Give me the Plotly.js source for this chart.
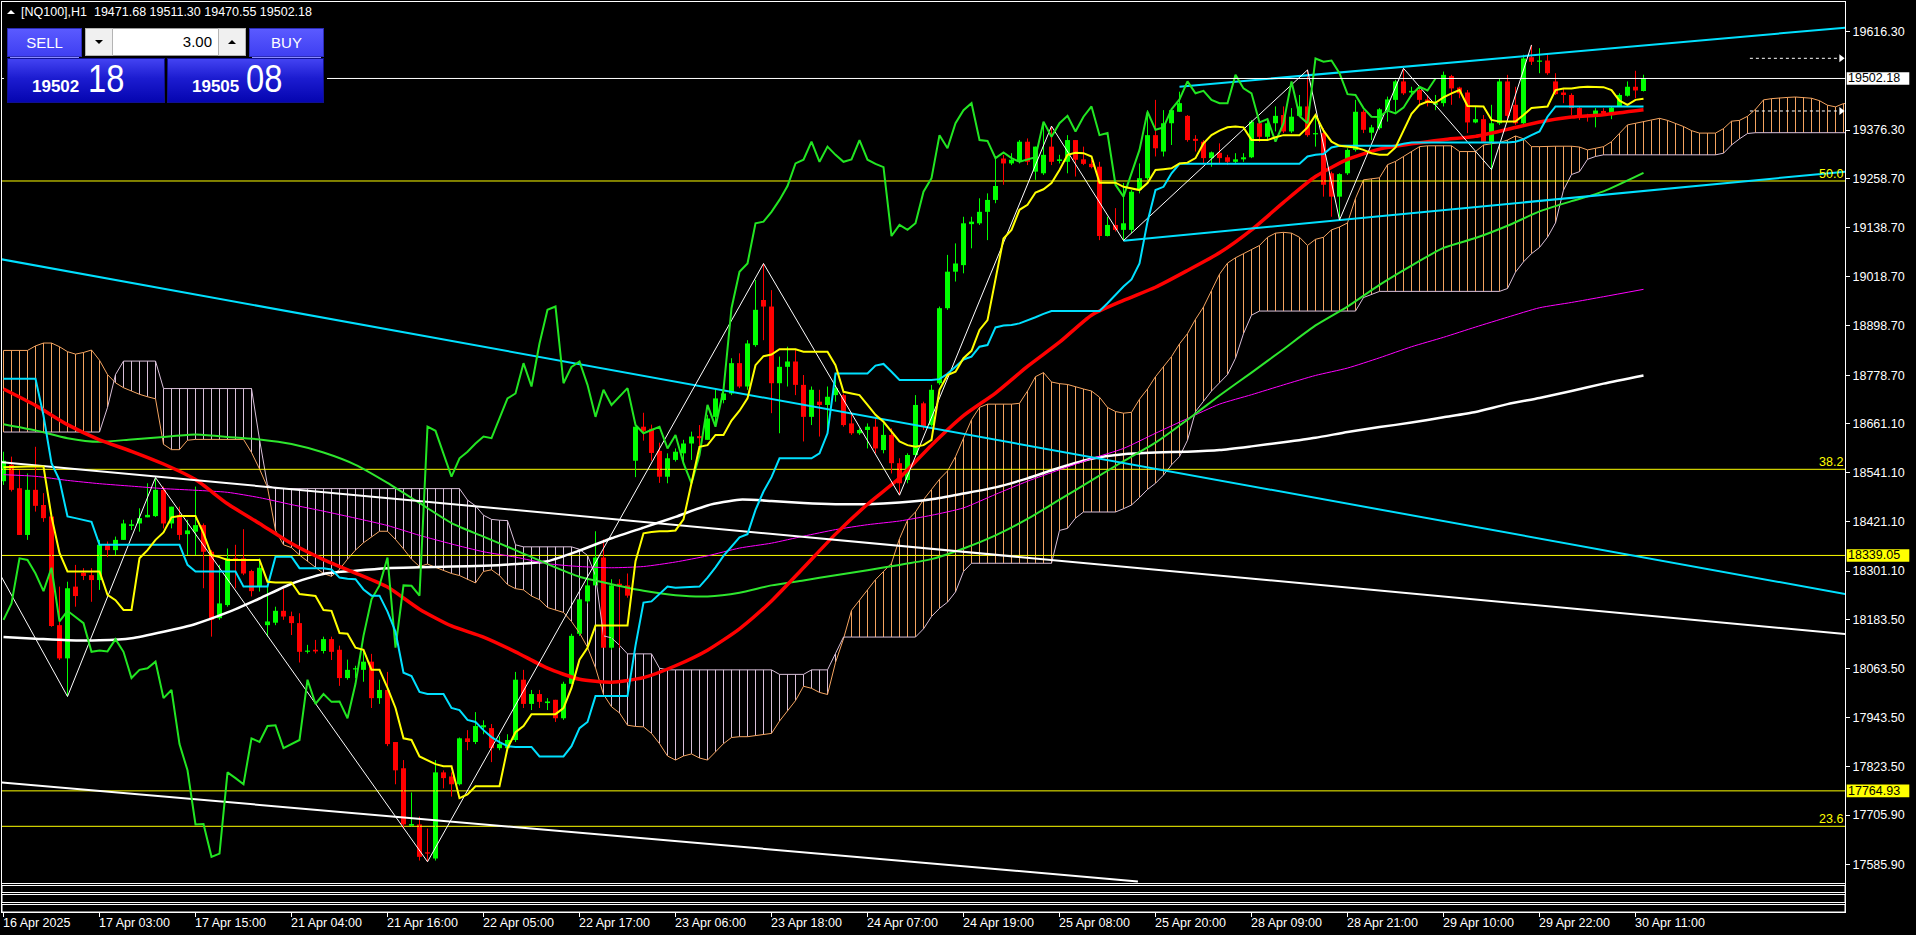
<!DOCTYPE html>
<html><head><meta charset="utf-8">
<script src="https://cdn.plot.ly/plotly-3.0.1.min.js"></script>
<style>
html,body{margin:0;padding:0;background:#000;width:1916px;height:935px;overflow:hidden;font-family:"Liberation Sans",Arial,sans-serif}
#chart{position:absolute;left:0;top:0;width:1916px;height:935px}
#panel{position:absolute;left:0;top:0;width:340px;height:110px}
#panel div{position:absolute;box-sizing:border-box}
.btn{background:linear-gradient(#5a5aff,#3f3ff2);border:1px solid #2b2bb8;color:#fff;font-size:15px;text-align:center;line-height:27px}
.sep{height:1px;background:#8c8cff}
.pbox{background:linear-gradient(#4343f2,#1c1cd0 45%,#0505b0);border:1px solid #101090}
.small{position:absolute;color:#fff;font-weight:bold;font-size:17px;line-height:17px;white-space:nowrap}
.big{position:absolute;color:#fff;font-size:38px;line-height:38px;white-space:nowrap;transform:scaleX(0.86);transform-origin:0 0}
</style></head><body>
<div id="chart"></div>
<div id="panel">
  <div style="left:4px;top:22px;width:323px;height:85px;background:#000"></div>
  <div style="left:7px;top:10px;width:0;height:0;border-left:4px solid transparent;border-right:4px solid transparent;border-bottom:4px solid #fff"></div>
  <div id="hdr" style="left:21px;top:5px;height:15px;line-height:15px;font-size:12.5px;color:#fff;white-space:nowrap"></div>
  <div class="btn" style="left:7px;top:28px;width:75px;height:29px">SELL</div>
  <div class="sep" style="left:10px;top:57px;width:69px"></div>
  <div style="left:85px;top:28px;width:161px;height:28px;background:#fff;border:1px solid #9a9a9a"></div>
  <div style="left:85px;top:28px;width:28px;height:28px;background:#f0f0f0;border:1px solid #b4b4b4"></div>
  <div style="left:95px;top:40px;width:0;height:0;border-left:4px solid transparent;border-right:4px solid transparent;border-top:4px solid #000"></div>
  <div style="left:218px;top:28px;width:28px;height:28px;background:#f0f0f0;border:1px solid #b4b4b4"></div>
  <div style="left:228px;top:40px;width:0;height:0;border-left:4px solid transparent;border-right:4px solid transparent;border-bottom:4px solid #000"></div>
  <div id="lot" style="left:113px;top:28px;width:105px;height:28px;line-height:28px;font-size:15px;color:#000;text-align:right;padding-right:6px"></div>
  <div class="btn" style="left:249px;top:28px;width:75px;height:29px">BUY</div>
  <div class="sep" style="left:252px;top:57px;width:69px"></div>
  <div class="pbox" style="left:7px;top:58px;width:158px;height:45px"></div>
  <div class="pbox" style="left:167px;top:58px;width:157px;height:45px"></div>
  <span class="small" id="bidS" style="left:32px;top:78px"></span>
  <span class="big" id="bidB" style="left:88px;top:60px"></span>
  <span class="small" id="askS" style="left:192px;top:78px"></span>
  <span class="big" id="askB" style="left:246px;top:60px"></span>
</div>
<script>
// ---------- DATA ----------
const symbol = "[NQ100],H1";
const lotSize = 3.00;
const askPrice = 19505.08;

const xTickBars = [0,12,24,36,48,60,72,84,96,108,120,132,144,156,168,180,192,204];
const xTickLabels = ["16 Apr 2025","17 Apr 03:00","17 Apr 15:00","21 Apr 04:00","21 Apr 16:00","22 Apr 05:00","22 Apr 17:00","23 Apr 06:00","23 Apr 18:00","24 Apr 07:00","24 Apr 19:00","25 Apr 08:00","25 Apr 20:00","28 Apr 09:00","28 Apr 21:00","29 Apr 10:00","29 Apr 22:00","30 Apr 11:00"];
const yTickVals = [19616.30,19376.30,19258.70,19138.70,19018.70,18898.70,18778.70,18661.10,18541.10,18421.10,18301.10,18183.50,18063.50,17943.50,17823.50,17705.90,17585.90];

const open = [18520,18560,18503,18389,18499,18462,18434,18169,18088,18263,
 18297,18291,18279,18365,18352,18377,18411,18417,18432,18435,
 18499,18417,18438,18391,18397,18413,18348,18186,18218,18332,
 18332,18301,18263,18169,18175,18204,18191,18174,18104,18109,
 18106,18135,18109,18040,18061,18060,18080,17991,18011,17884,
 17820,17680,17683,17615,17600,17810,17800,17781,17893,17884,
 17920,17918,17869,17869,17889,18036,17977,18001,17979,17987,
 17942,18026,18148,18227,18266,18334,18114,18270,18266,18570,
 18653,18648,18594,18531,18572,18588,18612,18630,18621,18677,
 18718,18734,18808,18751,18852,18962,18946,18759,18799,18812,
 18755,18677,18714,18706,18730,18730,18661,18637,18645,18653,
 18596,18633,18564,18523,18584,18710,18657,18759,18942,19031,
 19047,19147,19149,19177,19206,19307,19295,19299,19348,19275,
 19271,19336,19301,19299,19352,19305,19294,19287,19118,19145,
 19133,19133,19230,19259,19364,19324,19393,19421,19411,19355,
 19348,19308,19321,19310,19299,19305,19310,19393,19360,19393,
 19413,19373,19411,19434,19366,19369,19271,19214,19271,19328,
 19421,19370,19381,19425,19450,19495,19468,19474,19451,19438,
 19442,19508,19480,19468,19395,19403,19348,19393,19495,19438,
 19393,19554,19543,19546,19495,19468,19462,19430,19411,19409,
 19423,19416,19435,19460,19482,19471.68];
const high = [18592,18580,18547,18539,18604,18491,18434,18263,18275,18316,
 18308,18308,18377,18373,18385,18426,18426,18454,18515,18529,
 18507,18458,18458,18426,18507,18417,18352,18316,18356,18365,
 18403,18304,18332,18263,18214,18259,18202,18198,18121,18133,
 18141,18141,18119,18085,18070,18109,18099,18036,18055,17884,
 17840,17761,17702,17673,17840,17815,17810,17895,17913,17957,
 17937,17928,17898,17903,18055,18060,18011,18011,17991,17987,
 18031,18148,18232,18281,18398,18378,18281,18281,18295,18653,
 18687,18658,18614,18588,18600,18621,18641,18657,18682,18743,
 18747,18820,18832,18864,19011,19051,18986,18824,18848,18840,
 18779,18751,18743,18751,18783,18734,18682,18649,18661,18673,
 18661,18649,18576,18588,18730,18714,18755,18946,19072,19100,
 19165,19165,19210,19222,19310,19316,19320,19352,19356,19336,
 19389,19386,19316,19364,19352,19336,19304,19299,19165,19186,
 19247,19230,19295,19425,19450,19425,19430,19470,19413,19364,
 19352,19324,19344,19316,19320,19320,19401,19401,19401,19434,
 19434,19430,19462,19523,19409,19381,19275,19271,19332,19450,
 19425,19389,19430,19458,19499,19527,19482,19482,19462,19462,
 19519,19511,19482,19474,19434,19413,19438,19503,19511,19482,
 19560,19584,19576,19564,19515,19478,19466,19434,19416,19430,
 19430,19435,19466,19495,19521,19511.30];
const low = [18511,18495,18389,18377,18446,18421,18165,18084,17995,18214,
 18279,18226,18255,18335,18340,18377,18401,18397,18432,18433,
 18405,18405,18377,18340,18340,18259,18141,18182,18214,18259,
 18291,18239,18251,18141,18169,18182,18145,18078,18100,18100,
 18100,18084,18021,18036,18040,18031,17967,17977,17874,17781,
 17673,17678,17595,17592,17595,17771,17751,17778,17864,17879,
 17903,17835,17864,17869,17884,17967,17962,17967,17962,17933,
 17938,18025,18143,18222,18266,18114,18109,18114,18236,18530,
 18619,18570,18516,18515,18568,18568,18572,18604,18621,18657,
 18710,18730,18747,18743,18848,18864,18686,18637,18751,18730,
 18617,18657,18629,18637,18714,18653,18633,18633,18600,18588,
 18588,18539,18486,18515,18580,18645,18653,18755,18938,19007,
 19027,19088,19145,19108,19198,19243,19291,19295,19291,19255,
 19267,19291,19295,19271,19263,19291,19283,19108,19117,19129,
 19107,19125,19222,19255,19312,19312,19340,19421,19348,19324,
 19295,19287,19295,19291,19295,19299,19308,19348,19352,19373,
 19369,19369,19409,19360,19336,19214,19165,19157,19267,19324,
 19369,19352,19377,19397,19421,19462,19458,19438,19434,19425,
 19434,19438,19454,19369,19393,19348,19280,19389,19397,19389,
 19389,19535,19515,19511,19462,19442,19413,19401,19397,19383,
 19413,19403,19434,19458,19454,19470.55];
const close = [18570,18499,18389,18499,18460,18430,18167,18088,18259,18240,
 18289,18279,18365,18352,18377,18417,18415,18430,18438,18499,
 18417,18458,18389,18400,18413,18348,18182,18222,18332,18328,
 18295,18252,18309,18178,18204,18190,18174,18104,18107,18105,
 18135,18104,18040,18060,18064,18080,17991,18011,17879,17815,
 17683,17684,17604,17612,17810,17796,17781,17893,17884,17923,
 17925,17869,17879,17889,18036,17977,18001,17982,17983,17942,
 18026,18143,18232,18266,18334,18114,18266,18265,18241,18653,
 18643,18589,18531,18576,18592,18612,18629,18625,18673,18722,
 18734,18808,18751,18856,18938,18946,18759,18799,18812,18755,
 18677,18743,18706,18726,18747,18657,18637,18645,18653,18600,
 18633,18564,18515,18584,18706,18653,18743,18942,19031,19051,
 19149,19153,19177,19206,19240,19295,19304,19348,19299,19336,
 19316,19299,19305,19352,19304,19294,19286,19118,19145,19133,
 19149,19226,19259,19364,19332,19393,19425,19442,19352,19350,
 19308,19322,19308,19299,19305,19310,19397,19360,19393,19411,
 19373,19409,19434,19364,19369,19243,19214,19269,19328,19421,
 19377,19383,19427,19451,19495,19466,19472,19450,19442,19442,
 19511,19478,19466,19395,19403,19348,19393,19495,19411,19393,
 19551,19543,19546,19515,19464,19462,19430,19409,19408,19424,
 19417,19431,19462,19482,19473,19502.18];

const tenkan = [18554,18555,18555,18556,18556,18556,18434,18345,18300,18300,
 18300,18300,18300,18243,18230,18206,18206,18332,18352,18377,
 18395,18432,18435,18435,18435,18393,18340,18335,18328,18328,
 18328,18328,18328,18275,18273,18273,18273,18245,18243,18240,
 18206,18204,18150,18148,18114,18109,18060,18060,18016,17967,
 17893,17889,17849,17840,17830,17825,17825,17747,17756,17776,
 17776,17776,17776,17869,17908,17923,17952,17952,17952,17952,
 17967,18016,18085,18114,18168,18168,18168,18168,18168,18325,
 18393,18396,18398,18398,18400,18427,18519,18604,18608,18633,
 18633,18668,18692,18722,18803,18825,18829,18842,18842,18842,
 18836,18836,18836,18836,18803,18738,18734,18730,18706,18682,
 18665,18641,18617,18608,18604,18608,18621,18743,18779,18787,
 18820,18838,18889,18913,19012,19112,19133,19182,19194,19224,
 19232,19247,19279,19316,19321,19320,19312,19248,19248,19248,
 19238,19234,19230,19247,19279,19281,19283,19295,19297,19308,
 19344,19364,19375,19383,19385,19383,19352,19352,19352,19359,
 19364,19364,19364,19383,19413,19375,19348,19338,19336,19334,
 19328,19320,19316,19316,19334,19377,19416,19438,19446,19443,
 19456,19466,19474,19435,19434,19434,19401,19397,19397,19397,
 19413,19430,19432,19434,19474,19478,19478,19481,19482,19482,
 19481,19474,19448,19438,19450,19453];
const kijun = [18770,18770,18770,18770,18770,18680,18564,18523,18434,18430,
 18426,18421,18365,18365,18365,18365,18365,18365,18365,18365,
 18365,18365,18365,18316,18300,18300,18300,18300,18300,18300,
 18263,18263,18263,18263,18336,18336,18336,18308,18308,18308,
 18308,18305,18285,18282,18281,18256,18241,18241,18202,18153,
 18053,18045,18006,18001,18001,18001,17967,17962,17938,17933,
 17913,17896,17884,17874,17872,17872,17872,17849,17849,17849,
 17849,17874,17918,17933,17996,17996,17996,17996,17996,18119,
 18224,18227,18246,18263,18260,18261,18262,18263,18285,18310,
 18338,18360,18383,18391,18450,18495,18530,18576,18576,18576,
 18576,18576,18588,18637,18783,18783,18783,18783,18783,18802,
 18806,18787,18767,18767,18767,18767,18767,18769,18782,18799,
 18817,18824,18848,18852,18895,18900,18901,18905,18912,18920,
 18928,18935,18935,18935,18935,18935,18935,18935,18954,18975,
 18995,19012,19051,19153,19230,19238,19271,19294,19294,19294,
 19294,19294,19294,19294,19294,19294,19294,19294,19294,19294,
 19294,19294,19294,19312,19316,19318,19334,19338,19338,19338,
 19338,19338,19338,19338,19338,19343,19346,19346,19346,19346,
 19346,19346,19346,19346,19346,19346,19346,19346,19346,19348,
 19354,19364,19373,19409,19434,19434,19434,19434,19434,19434,
 19434,19434,19434,19434,19434,19434];
const chikouShift = 26;

const spanA = [18839,18839,18839,18839,18850,18857,18857,18848,18836,18830,
 18834,18840,18815,18780,18760,18748,18740,18732,18726,18721,
 18610,18597,18597,18620,18622,18622,18622,18622,18622,18622,
 18622,18590,18550,18505,18400,18365,18358,18340,18325,18310,
 18295,18288,18305,18330,18352,18370,18385,18398,18398,18378,
 18355,18330,18312,18318,18310,18302,18295,18290,18280,18272,
 18300,18304,18290,18268,18258,18255,18240,18231,18212,18206,
 18200,18178,18150,18115,18065,18000,17970,17955,17925,17922,
 17921,17905,17880,17850,17840,17850,17855,17845,17840,17860,
 17880,17895,17897,17897,17900,17903,17905,17935,17960,17985,
 18020,18015,18005,18000,18078,18136,18205,18230,18255,18280,
 18300,18320,18380,18425,18445,18475,18500,18525,18545,18580,
 18625,18670,18700,18708,18708,18708,18708,18710,18740,18775,
 18785,18762,18758,18756,18750,18745,18740,18725,18700,18690,
 18686,18688,18720,18745,18775,18800,18824,18855,18880,18915,
 18945,18985,19025,19052,19065,19075,19085,19095,19115,19125,
 19127,19125,19115,19095,19110,19115,19133,19140,19150,19210,
 19255,19257,19260,19292,19300,19312,19324,19336,19338,19338,
 19338,19338,19324,19324,19324,19340,19343,19346,19352,19362,
 19355,19336,19336,19337,19337,19337,19337,19335,19328,19332,
 19336,19348,19368,19389,19393,19397,19400,19405,19400,19393,
 19385,19375,19369,19369,19369,19380,19398,19400,19410,19427,
 19450,19453,19455,19456,19457,19456,19454,19448,19437,19433,
 19441,19441];
const spanB = [18640,18640,18640,18640,18640,18640,18640,18640,18640,18640,
 18640,18640,18640,18700,18780,18813,18813,18813,18813,18813,
 18746,18746,18746,18746,18746,18746,18746,18746,18746,18746,
 18746,18746,18622,18510,18502,18502,18502,18502,18502,18502,
 18502,18502,18502,18502,18502,18502,18502,18502,18502,18502,
 18502,18502,18502,18502,18502,18502,18502,18502,18474,18460,
 18437,18427,18425,18424,18365,18360,18360,18360,18360,18360,
 18360,18360,18354,18339,18290,18143,18138,18120,18099,18099,
 18099,18099,18064,18060,18060,18060,18060,18060,18060,18060,
 18060,18060,18060,18060,18060,18060,18060,18049,18049,18049,
 18049,18060,18060,18060,18100,18140,18140,18140,18140,18140,
 18140,18140,18140,18140,18140,18160,18190,18210,18225,18250,
 18300,18320,18320,18320,18320,18320,18320,18320,18320,18320,
 18320,18320,18400,18405,18430,18445,18445,18445,18445,18445,
 18453,18462,18480,18500,18515,18535,18560,18580,18620,18690,
 18715,18740,18760,18780,18820,18880,18925,18935,18935,18935,
 18935,18935,18935,18935,18935,18935,18935,18935,18935,18935,
 18968,18975,18983,18983,18983,18983,18983,18983,18983,18983,
 18983,18983,18983,18983,18983,18983,18983,18983,18990,19030,
 19055,19075,19090,19115,19150,19230,19268,19275,19305,19312,
 19316,19316,19316,19316,19316,19316,19316,19316,19316,19316,
 19316,19316,19316,19316,19316,19320,19340,19355,19368,19370,
 19370,19370,19370,19370,19370,19370,19370,19370,19370,19370,
 19370,19370];

const maBars = [0,4,8,12,16,20,24,28,32,36,40,44,48,52,56,60,64,68,72,76,80,84,88,92,96,100,104,108,112,116,120,124,128,132,136,140,144,148,152,156,160,164,168,172,176,180,184,188,192,196,200,205];
const maRed = [18745,18705,18658,18621,18593,18562,18524,18465,18417,18368,18329,18296,18262,18208,18167,18140,18104,18064,18037,18030,18041,18070,18108,18160,18228,18309,18391,18464,18528,18608,18680,18735,18800,18859,18925,18961,18993,19034,19077,19133,19200,19263,19305,19330,19343,19353,19361,19378,19396,19408,19414,19426];
const maGreen = [18659,18644,18625,18616,18622,18628,18634,18628,18622,18611,18590,18560,18516,18467,18418,18385,18352,18318,18287,18269,18253,18242,18239,18248,18266,18278,18291,18303,18316,18330,18356,18388,18428,18475,18522,18569,18614,18670,18729,18785,18842,18900,18946,18999,19046,19089,19113,19143,19178,19203,19227,19272];
const maMagenta = [18536,18532,18522,18514,18508,18502,18498,18493,18480,18463,18447,18430,18412,18388,18367,18348,18335,18319,18312,18309,18312,18323,18338,18357,18369,18386,18402,18414,18423,18437,18455,18488,18520,18548,18575,18600,18637,18673,18708,18731,18755,18778,18796,18821,18848,18871,18896,18920,18943,18956,18970,18988];
const maWhite = [18140,18136,18132,18132,18137,18153,18172,18200,18234,18270,18294,18302,18308,18310,18312,18314,18318,18325,18351,18381,18407,18433,18461,18475,18472,18467,18464,18464,18468,18476,18490,18505,18527,18553,18575,18586,18590,18592,18596,18605,18615,18626,18640,18652,18663,18676,18689,18708,18723,18740,18758,18778];

const cyanDownBars = [-0.46,230.2], cyanDownPrices = [19062,18245];
const cyanUpBars = [147,230.2], cyanUpPrices = [19482.3,19626.1];
const cyanLowBars = [140,230.2], cyanLowPrices = [19106.7,19274.9];
const whiteUpperBars = [-0.46,230.2], whiteUpperPrices = [18567,18147.5];
const whiteLowerBars = [-0.46,141.8], whiteLowerPrices = [17786,17544];
const zigzagBars = [-0.46,8,19,53,95,112,131,140,163,167,175,186,191];
const zigzagPrices = [18294,17995,18529,17592,19051,18486,19386,19107,19523,19157,19527,19280,19584];

const fibValues = [19252.2,18549.1,17678.5];
const fibLabels = ["50.0","38.2","23.6"];
const alertLevels = [18339.05,17764.93];
const dottedLevels = [19551.4,19422.9];
const dottedBars = [218.3,229.4];

// ---------- BUILD ----------
const N = close.length;
const bid = close[N-1];
const FONT = '"Liberation Sans", Arial, sans-serif';
const fx = v => v.toFixed(2);

document.getElementById('hdr').innerHTML = symbol + '&nbsp;&nbsp;' + [open[N-1],high[N-1],low[N-1],close[N-1]].map(fx).join(' ');
document.getElementById('lot').textContent = lotSize.toFixed(2);
const splitPrice = p => { const s = fx(p).split('.'); return [s[0], s[1]]; };
const [bS,bB] = splitPrice(bid), [aS,aB] = splitPrice(askPrice);
document.getElementById('bidS').textContent = bS;
document.getElementById('bidB').textContent = bB;
document.getElementById('askS').textContent = aS;
document.getElementById('askB').textContent = aB;

const traces = [];
const line = (x, y, color, width, extra) => Object.assign({type:'scatter', mode:'lines', x, y, line:{color, width}, hoverinfo:'skip', connectgaps:false}, extra||{});

// Ichimoku cloud hatch
const hsX=[],hsY=[],htX=[],htY=[];
spanA.forEach((a,i)=>{ const b=spanB[i];
  if (a>=b){ hsX.push(i,i,null); hsY.push(a,b,null); } else { htX.push(i,i,null); htY.push(b,a,null); } });
const cloudX = spanA.map((_,i)=>i);
traces.push(line(hsX,hsY,'#F4A460',1));
traces.push(line(htX,htY,'#D8BFD8',1));
traces.push(line(cloudX,spanA,'#F4A460',1));
traces.push(line(cloudX,spanB,'#D8BFD8',1));

// horizontal levels
[...fibValues, ...alertLevels].forEach(v => traces.push(line([-1,232],[v,v],'#FFFF00',1)));

// candles
const upX=[],upB=[],upH=[],dnX=[],dnB=[],dnH=[],uwX=[],uwY=[],dwX=[],dwY=[];
for (let i=0;i<N;i++){
  const o=open[i], c=close[i];
  if (c>=o){ upX.push(i); upB.push(o); upH.push(Math.max(c-o,2.5)); uwX.push(i,i,null); uwY.push(low[i],high[i],null); }
  else { dnX.push(i); dnB.push(c); dnH.push(Math.max(o-c,2.5)); dwX.push(i,i,null); dwY.push(low[i],high[i],null); }
}
traces.push(line(uwX,uwY,'#00FF00',1));
traces.push(line(dwX,dwY,'#FF0000',1));
traces.push({type:'bar', x:upX, base:upB, y:upH, width:0.625, marker:{color:'#00FF00', line:{width:0}}, hoverinfo:'skip'});
traces.push({type:'bar', x:dnX, base:dnB, y:dnH, width:0.625, marker:{color:'#FF0000', line:{width:0}}, hoverinfo:'skip'});

// moving averages
const sp = {line:{shape:'spline', smoothing:0.6}};
traces.push(line(maBars,maWhite,'#FFFFFF',2.5,{line:{color:'#FFFFFF',width:2.5,shape:'spline',smoothing:0.6}}));
traces.push(line(maBars,maMagenta,'#FF00FF',1,{line:{color:'#FF00FF',width:1,shape:'spline',smoothing:0.6}}));
traces.push(line(maBars,maGreen,'#2EE62E',2,{line:{color:'#2EE62E',width:2,shape:'spline',smoothing:0.6}}));
traces.push(line(maBars,maRed,'#FF0000',3.5,{line:{color:'#FF0000',width:3.5,shape:'spline',smoothing:0.6}}));

// trend lines
traces.push(line(cyanDownBars,cyanDownPrices,'#00E0FF',2));
traces.push(line(cyanUpBars,cyanUpPrices,'#00E0FF',2));
traces.push(line(cyanLowBars,cyanLowPrices,'#00E0FF',2));
traces.push(line(whiteUpperBars,whiteUpperPrices,'#FFFFFF',2));
traces.push(line(whiteLowerBars,whiteLowerPrices,'#FFFFFF',2));
traces.push(line(zigzagBars,zigzagPrices,'#FFFFFF',1));

// Ichimoku lines
const chX=[],chY=[];
for (let i=chikouShift;i<N;i++){ chX.push(i-chikouShift); chY.push(close[i]); }
traces.push(line(chX,chY,'#22E622',2));
traces.push(line(close.map((_,i)=>i),kijun,'#00E0FF',2));
traces.push(line(close.map((_,i)=>i),tenkan,'#FFFF00',2));

// dotted arrow lines
dottedLevels.forEach(v=>{
  traces.push(line(dottedBars,[v,v],'#FFFFFF',1,{line:{color:'#FFFFFF',width:1,dash:'dot'}}));
  traces.push({type:'scatter',mode:'markers',x:[dottedBars[1]+0.3],y:[v],marker:{symbol:'triangle-right',size:7,color:'#FFFFFF'},hoverinfo:'skip',cliponaxis:false});
});

// ---------- LAYOUT ----------
const H = 910; const pY = y => (912 - y) / H;
const shapes = [
  {type:'line', xref:'paper', x0:0, x1:1, yref:'y', y0:bid, y1:bid, line:{color:'#FFFFFF', width:1}, layer:'above'},
  {type:'rect', xref:'paper', x0:0, x1:1, yref:'paper', y0:0, y1:pY(883.5), fillcolor:'#000', line:{width:0}, layer:'above'},
  {type:'line', xref:'paper', x0:0, x1:1, yref:'paper', y0:pY(883.5), y1:pY(883.5), line:{color:'#FFFFFF', width:1}, layer:'above'},
  {type:'rect', xref:'paper', x0:0, x1:1, yref:'paper', y0:pY(892.5), y1:pY(885.5), fillcolor:'#000', line:{color:'#FFFFFF', width:1}, layer:'above'},
  {type:'rect', xref:'paper', x0:0, x1:1, yref:'paper', y0:pY(902.5), y1:pY(894.5), fillcolor:'#000', line:{color:'#FFFFFF', width:1}, layer:'above'},
  {type:'rect', xref:'paper', x0:0, x1:1, yref:'paper', y0:0, y1:pY(904.5), fillcolor:'#000', line:{color:'#FFFFFF', width:1}, layer:'above'}
];
const annotations = [];
const axisLabel = (v, bg) => {
  shapes.push({type:'rect', xref:'paper', xsizemode:'pixel', xanchor:1, x0:1.7, x1:64.3, yref:'y', ysizemode:'pixel', yanchor:v, y0:-6.3, y1:6.3, fillcolor:bg, line:{width:0}, layer:'above'});
  annotations.push({xref:'paper', x:1, xanchor:'left', xshift:2, yref:'y', y:v, yanchor:'middle', text:fx(v), showarrow:false, font:{family:FONT, size:12.5, color:'#000'}, borderpad:0});
};
axisLabel(bid,'#FFFFFF');
alertLevels.forEach(v=>axisLabel(v,'#FFFF00'));
fibValues.forEach((v,i)=>annotations.push({xref:'paper', x:1, xanchor:'right', xshift:-1, yref:'y', y:v, yanchor:'bottom', yshift:-1, text:fibLabels[i], showarrow:false, font:{family:FONT, size:12.5, color:'#FFFF00'}, borderpad:0}));
xTickBars.forEach((b,i)=>annotations.push({xref:'x', x:b, xanchor:'left', xshift:-2, yref:'paper', y:0, yanchor:'top', yshift:-3, text:xTickLabels[i], showarrow:false, font:{family:FONT, size:12.5, color:'#FFFFFF'}, borderpad:0}));

const layout = {
  width:1916, height:935, paper_bgcolor:'#000', plot_bgcolor:'#000',
  margin:{l:2, r:71, t:2, b:23, pad:0}, showlegend:false, barmode:'overlay',
  font:{family:FONT, color:'#FFFFFF', size:12.5},
  xaxis:{range:[-0.1875,230.1875], showgrid:false, zeroline:false, showline:true, mirror:true, linecolor:'#FFFFFF', linewidth:1,
         tickmode:'array', tickvals:xTickBars, ticks:'outside', ticklen:4, tickcolor:'#FFFFFF', showticklabels:false, fixedrange:true},
  yaxis:{range:[17469.5,19688.7], side:'right', showgrid:false, zeroline:false, showline:true, mirror:true, linecolor:'#FFFFFF', linewidth:1,
         tickmode:'array', tickvals:yTickVals, ticktext:yTickVals.map(fx), ticks:'outside', ticklen:4, tickcolor:'#FFFFFF',
         tickfont:{family:FONT, size:12.5, color:'#FFFFFF'}, fixedrange:true},
  shapes, annotations
};
Plotly.newPlot('chart', traces, layout, {staticPlot:true, displayModeBar:false});
</script>
</body></html>
